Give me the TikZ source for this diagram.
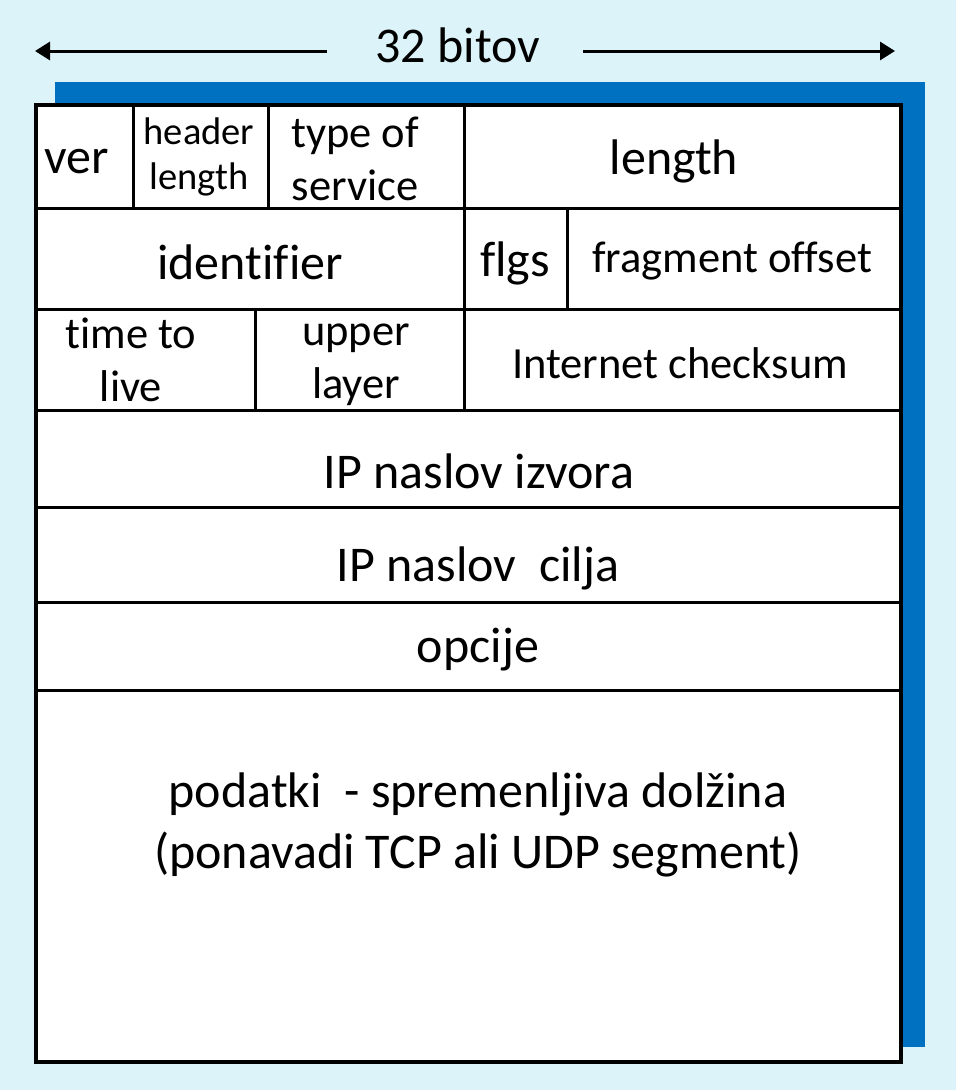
\documentclass[tikz,border=0pt]{standalone}
\usepackage{fontspec}
\setmainfont{Carlito}[Ligatures=NoCommon]
\usetikzlibrary{arrows.meta}
\definecolor{bgc}{HTML}{DCF4F9}
\definecolor{shadowblue}{HTML}{0070C0}
\tikzset{
  cell/.style={draw=black, line width=3pt, inner sep=0pt, outer sep=0pt, anchor=north west},
  big/.style={font=\fontsize{50}{61}\selectfont, inner sep=0pt, align=center},
  mid/.style={font=\fontsize{44.5}{53}\selectfont, inner sep=0pt, align=center},
  small/.style={font=\fontsize{38.5}{45}\selectfont, inner sep=0pt, align=center},
  arr/.style={line width=3pt, -{Triangle[length=15pt,width=18pt]}}
}
\begin{document}
\begin{tikzpicture}[x=1pt,y=-1pt]
\useasboundingbox (0,0) rectangle (956,1090);
\fill[bgc] (0,0) rectangle (956,1090);
% blue shadow
\fill[shadowblue] (55,82) rectangle (925,1047);
% white packet box
\node[cell, fill=white, draw=none, minimum width=865pt, minimum height=957pt] (packet) at (36,105) {};
% row 1
\node[cell, minimum width=97pt,  minimum height=103pt] (c11) at (36,105) {};
\node[cell, minimum width=135pt, minimum height=103pt] (c12) at (133,105) {};
\node[cell, minimum width=196pt, minimum height=103pt] (c13) at (268,105) {};
\node[cell, minimum width=437pt, minimum height=103pt] (c14) at (464,105) {};
% row 2
\node[cell, minimum width=428pt, minimum height=101pt] (c21) at (36,208) {};
\node[cell, minimum width=103pt, minimum height=101pt] (c22) at (464,208) {};
\node[cell, minimum width=334pt, minimum height=101pt] (c23) at (567,208) {};
% row 3
\node[cell, minimum width=219pt, minimum height=101pt] (c31) at (36,309) {};
\node[cell, minimum width=209pt, minimum height=101pt] (c32) at (255,309) {};
\node[cell, minimum width=437pt, minimum height=101pt] (c33) at (464,309) {};
% rows 4-7
\node[cell, minimum width=865pt, minimum height=97pt]  (c4) at (36,410) {};
\node[cell, minimum width=865pt, minimum height=95pt]  (c5) at (36,507) {};
\node[cell, minimum width=865pt, minimum height=88pt]  (c6) at (36,602) {};
\node[cell, minimum width=865pt, minimum height=372pt] (c7) at (36,690) {};
% outer border
\node[cell, line width=4pt, minimum width=865pt, minimum height=957pt] (frame) at (36,105) {};
% labels
\node[big] (tver) at (77,162) {ver};
\node[small] (thl) at (199,157) {header\\length};
\node[mid] (ttos) at (355,159) {type of\\service};
\node[big] (tlen) at (674,161) {length};
\node[big] (tid) at (250,262) {identifier};
\node[big] (tflg) at (515,263) {flgs};
\node[mid] (tfo) at (732,261) {fragment offset};
\node[mid] (tttl) at (131,360) {time to\\live};
\node[mid] (tul) at (356,365) {upper\\layer};
\node[mid] (tck) at (680,363) {Internet checksum};
\node[big] (tsrc) at (479,471) {IP naslov izvora};
\node[big] (tdst) at (478,568) {IP naslov\ \ cilja};
\node[big] (topt) at (478,650) {opcije};
\node[big] (tdata) at (478,825) {podatki\ \ - spremenljiva dolžina\\(ponavadi TCP ali UDP segment)};
% width arrow
\node[big] (title) at (458,45) {32 bitov};
\coordinate (la) at (327,51);
\coordinate (lb) at (35,51);
\coordinate (ra) at (583,51);
\coordinate (rb) at (895,51);
\draw[arr] (la) -- (lb);
\draw[arr] (ra) -- (rb);
\end{tikzpicture}
\end{document}
